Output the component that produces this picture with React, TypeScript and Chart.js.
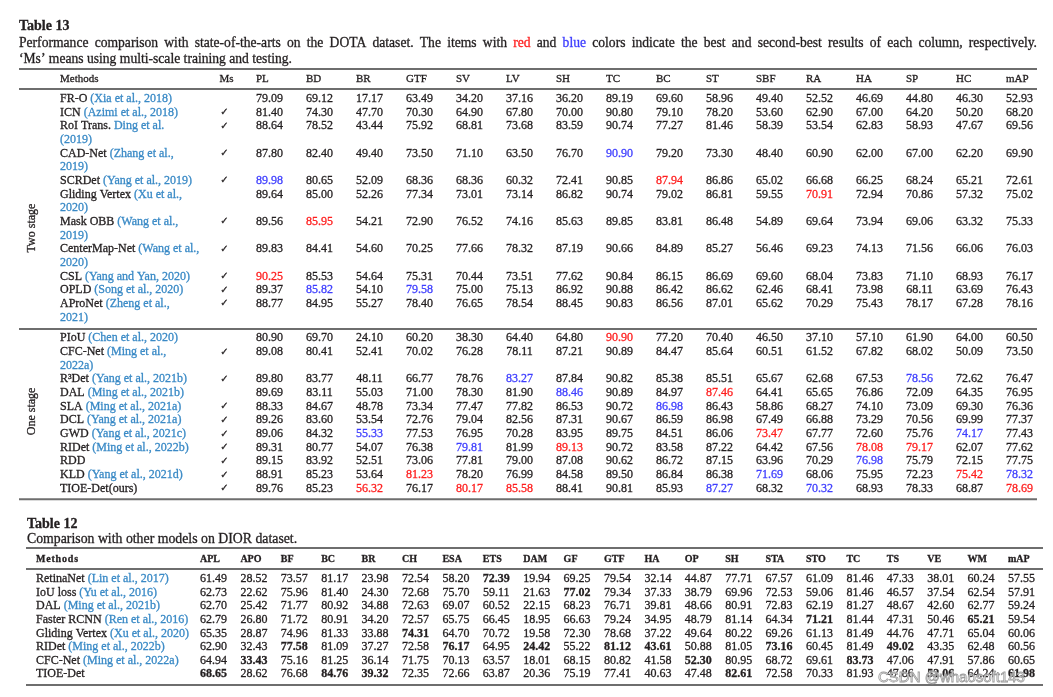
import React, { useEffect, useRef } from 'react';
import { Chart, registerables } from 'chart.js';

Chart.register(...registerables);

// ---------------- Table 13 (DOTA) data ----------------
const title13 = 'Table 13';
const caption13Line1 =
  'Performance comparison with state-of-the-arts on the DOTA dataset. The items with red and blue colors indicate the best and second-best results of each column, respectively.';
const caption13Line2 = '\u2018Ms\u2019 means using multi-scale training and testing.';
const cols13 = ['PL', 'BD', 'BR', 'GTF', 'SV', 'LV', 'SH', 'TC', 'BC', 'ST', 'SBF', 'RA', 'HA', 'SP', 'HC', 'mAP'];

const twoStageMethods = ['FR-O', 'ICN', 'RoI Trans.', 'CAD-Net', 'SCRDet', 'Gliding Vertex', 'Mask OBB', 'CenterMap-Net', 'CSL', 'OPLD', 'AProNet'];
const twoStageCites = [
  ['(Xia et al., 2018)'],
  ['(Azimi et al., 2018)'],
  ['Ding et al.', '(2019)'],
  ['(Zhang et al.,', '2019)'],
  ['(Yang et al., 2019)'],
  ['(Xu et al.,', '2020)'],
  ['(Wang et al.,', '2019)'],
  ['(Wang et al.,', '2020)'],
  ['(Yang and Yan, 2020)'],
  ['(Song et al., 2020)'],
  ['(Zheng et al.,', '2021)'],
];
const twoStageMs = [false, true, true, true, true, false, true, true, true, true, true];
const twoStageValues = [
  [79.09, 69.12, 17.17, 63.49, 34.2, 37.16, 36.2, 89.19, 69.6, 58.96, 49.4, 52.52, 46.69, 44.8, 46.3, 52.93],
  [81.4, 74.3, 47.7, 70.3, 64.9, 67.8, 70.0, 90.8, 79.1, 78.2, 53.6, 62.9, 67.0, 64.2, 50.2, 68.2],
  [88.64, 78.52, 43.44, 75.92, 68.81, 73.68, 83.59, 90.74, 77.27, 81.46, 58.39, 53.54, 62.83, 58.93, 47.67, 69.56],
  [87.8, 82.4, 49.4, 73.5, 71.1, 63.5, 76.7, 90.9, 79.2, 73.3, 48.4, 60.9, 62.0, 67.0, 62.2, 69.9],
  [89.98, 80.65, 52.09, 68.36, 68.36, 60.32, 72.41, 90.85, 87.94, 86.86, 65.02, 66.68, 66.25, 68.24, 65.21, 72.61],
  [89.64, 85.0, 52.26, 77.34, 73.01, 73.14, 86.82, 90.74, 79.02, 86.81, 59.55, 70.91, 72.94, 70.86, 57.32, 75.02],
  [89.56, 85.95, 54.21, 72.9, 76.52, 74.16, 85.63, 89.85, 83.81, 86.48, 54.89, 69.64, 73.94, 69.06, 63.32, 75.33],
  [89.83, 84.41, 54.6, 70.25, 77.66, 78.32, 87.19, 90.66, 84.89, 85.27, 56.46, 69.23, 74.13, 71.56, 66.06, 76.03],
  [90.25, 85.53, 54.64, 75.31, 70.44, 73.51, 77.62, 90.84, 86.15, 86.69, 69.6, 68.04, 73.83, 71.1, 68.93, 76.17],
  [89.37, 85.82, 54.1, 79.58, 75.0, 75.13, 86.92, 90.88, 86.42, 86.62, 62.46, 68.41, 73.98, 68.11, 63.69, 76.43],
  [88.77, 84.95, 55.27, 78.4, 76.65, 78.54, 88.45, 90.83, 86.56, 87.01, 65.62, 70.29, 75.43, 78.17, 67.28, 78.16],
];
// [row, column]
const twoStageRed = [[8, 0], [6, 1], [4, 8], [5, 11]];
const twoStageBlue = [[4, 0], [9, 1], [9, 3], [3, 7]];

const oneStageMethods = ['PIoU', 'CFC-Net', 'R\u00B3Det', 'DAL', 'SLA', 'DCL', 'GWD', 'RIDet', 'RDD', 'KLD', 'TIOE-Det(ours)'];
const oneStageCites = [
  ['(Chen et al., 2020)'],
  ['(Ming et al.,', '2022a)'],
  ['(Yang et al., 2021b)'],
  ['(Ming et al., 2021b)'],
  ['(Ming et al., 2021a)'],
  ['(Yang et al., 2021a)'],
  ['(Yang et al., 2021c)'],
  ['(Ming et al., 2022b)'],
  [''],
  ['(Yang et al., 2021d)'],
  [''],
];
const oneStageMs = [false, true, true, false, true, true, true, true, true, true, true];
const oneStageValues = [
  [80.9, 69.7, 24.1, 60.2, 38.3, 64.4, 64.8, 90.9, 77.2, 70.4, 46.5, 37.1, 57.1, 61.9, 64.0, 60.5],
  [89.08, 80.41, 52.41, 70.02, 76.28, 78.11, 87.21, 90.89, 84.47, 85.64, 60.51, 61.52, 67.82, 68.02, 50.09, 73.5],
  [89.8, 83.77, 48.11, 66.77, 78.76, 83.27, 87.84, 90.82, 85.38, 85.51, 65.67, 62.68, 67.53, 78.56, 72.62, 76.47],
  [89.69, 83.11, 55.03, 71.0, 78.3, 81.9, 88.46, 90.89, 84.97, 87.46, 64.41, 65.65, 76.86, 72.09, 64.35, 76.95],
  [88.33, 84.67, 48.78, 73.34, 77.47, 77.82, 86.53, 90.72, 86.98, 86.43, 58.86, 68.27, 74.1, 73.09, 69.3, 76.36],
  [89.26, 83.6, 53.54, 72.76, 79.04, 82.56, 87.31, 90.67, 86.59, 86.98, 67.49, 66.88, 73.29, 70.56, 69.99, 77.37],
  [89.06, 84.32, 55.33, 77.53, 76.95, 70.28, 83.95, 89.75, 84.51, 86.06, 73.47, 67.77, 72.6, 75.76, 74.17, 77.43],
  [89.31, 80.77, 54.07, 76.38, 79.81, 81.99, 89.13, 90.72, 83.58, 87.22, 64.42, 67.56, 78.08, 79.17, 62.07, 77.62],
  [89.15, 83.92, 52.51, 73.06, 77.81, 79.0, 87.08, 90.62, 86.72, 87.15, 63.96, 70.29, 76.98, 75.79, 72.15, 77.75],
  [88.91, 85.23, 53.64, 81.23, 78.2, 76.99, 84.58, 89.5, 86.84, 86.38, 71.69, 68.06, 75.95, 72.23, 75.42, 78.32],
  [89.76, 85.23, 56.32, 76.17, 80.17, 85.58, 88.41, 90.81, 85.93, 87.27, 68.32, 70.32, 68.93, 78.33, 68.87, 78.69],
];
const oneStageRed = [[0, 7], [10, 2], [9, 3], [10, 4], [10, 5], [7, 6], [3, 9], [6, 10], [7, 12], [7, 13], [9, 14], [10, 15]];
const oneStageBlue = [[6, 2], [7, 4], [2, 5], [3, 6], [4, 8], [10, 9], [9, 10], [10, 11], [8, 12], [2, 13], [6, 14], [9, 15]];

// ---------------- Table 12 (DIOR) data ----------------
const title12 = 'Table 12';
const caption12 = 'Comparison with other models on DIOR dataset.';
const cols12 = ['APL', 'APO', 'BF', 'BC', 'BR', 'CH', 'ESA', 'ETS', 'DAM', 'GF', 'GTF', 'HA', 'OP', 'SH', 'STA', 'STO', 'TC', 'TS', 'VE', 'WM', 'mAP'];
const methods12 = ['RetinaNet', 'IoU loss', 'DAL', 'Faster RCNN', 'Gliding Vertex', 'RIDet', 'CFC-Net', 'TIOE-Det'];
const cites12 = ['(Lin et al., 2017)', '(Yu et al., 2016)', '(Ming et al., 2021b)', '(Ren et al., 2016)', '(Xu et al., 2020)', '(Ming et al., 2022b)', '(Ming et al., 2022a)', ''];
const values12 = [
  [61.49, 28.52, 73.57, 81.17, 23.98, 72.54, 58.2, 72.39, 19.94, 69.25, 79.54, 32.14, 44.87, 77.71, 67.57, 61.09, 81.46, 47.33, 38.01, 60.24, 57.55],
  [62.73, 22.62, 75.96, 81.4, 24.3, 72.68, 75.7, 59.11, 21.63, 77.02, 79.34, 37.33, 38.79, 69.96, 72.53, 59.06, 81.46, 46.57, 37.54, 62.54, 57.91],
  [62.7, 25.42, 71.77, 80.92, 34.88, 72.63, 69.07, 60.52, 22.15, 68.23, 76.71, 39.81, 48.66, 80.91, 72.83, 62.19, 81.27, 48.67, 42.6, 62.77, 59.24],
  [62.79, 26.8, 71.72, 80.91, 34.2, 72.57, 65.75, 66.45, 18.95, 66.63, 79.24, 34.95, 48.79, 81.14, 64.34, 71.21, 81.44, 47.31, 50.46, 65.21, 59.54],
  [65.35, 28.87, 74.96, 81.33, 33.88, 74.31, 64.7, 70.72, 19.58, 72.3, 78.68, 37.22, 49.64, 80.22, 69.26, 61.13, 81.49, 44.76, 47.71, 65.04, 60.06],
  [62.9, 32.43, 77.58, 81.09, 37.27, 72.58, 76.17, 64.95, 24.42, 55.22, 81.12, 43.61, 50.88, 81.05, 73.16, 60.45, 81.49, 49.02, 43.35, 62.48, 60.56],
  [64.94, 33.43, 75.16, 81.25, 36.14, 71.75, 70.13, 63.57, 18.01, 68.15, 80.82, 41.58, 52.3, 80.95, 68.72, 69.61, 83.73, 47.06, 47.91, 57.86, 60.65],
  [68.65, 28.62, 76.68, 84.76, 39.32, 72.35, 72.66, 63.87, 20.36, 75.19, 77.41, 40.63, 47.48, 82.61, 72.58, 70.33, 81.93, 47.86, 52.06, 64.24, 61.98],
];
const bold12 = [
  [0, 7], [1, 9], [3, 15], [3, 19], [4, 5], [5, 2], [5, 6], [5, 8], [5, 10], [5, 11], [5, 14], [5, 17],
  [6, 1], [6, 12], [6, 16], [7, 0], [7, 3], [7, 4], [7, 13], [7, 18], [7, 20],
];
const watermark = 'CSDN @whaosoft143';

// ---------------- styling / layout ----------------
const SERIF = '"Liberation Serif", "Times New Roman", serif';
const INK = '#231f20';
const CITE = '#3a8ac6';
const RED = '#ff1f1f';
const BLUE = '#3f3fff';
const RULE = '#6e6e6e';
const HEAVY = 0.3;

const W = 1053;
const H13 = 505;
const H12 = 192;

const hasCell = (list: number[][], r: number, c: number) => list.some((p) => p[0] === r && p[1] === c);

// text with a light outline in the same colour, to match the heavier print face
function ink(ctx: CanvasRenderingContext2D, text: string, x: number, y: number, color: string) {
  ctx.fillStyle = color;
  ctx.strokeStyle = color;
  ctx.lineWidth = HEAVY;
  ctx.fillText(text, x, y);
  ctx.strokeText(text, x, y);
}

function drawWords(ctx: CanvasRenderingContext2D, text: string, x: number, y: number, width: number | null, colors: Record<string, string>) {
  const words = text.split(' ');
  const widths = words.map((w) => ctx.measureText(w).width);
  const total = widths.reduce((a, b) => a + b, 0);
  const space = ctx.measureText(' ').width;
  const gap = width === null ? space : Math.max(space * 0.6, (width - total) / (words.length - 1));
  let cx = x;
  ctx.textAlign = 'left';
  words.forEach((w, i) => {
    ink(ctx, w, cx, y, colors[w] || INK);
    cx += widths[i] + gap;
  });
}

function rule(ctx: CanvasRenderingContext2D, x1: number, x2: number, y: number) {
  ctx.save();
  ctx.strokeStyle = RULE;
  ctx.lineWidth = 2;
  ctx.beginPath();
  ctx.moveTo(x1, y);
  ctx.lineTo(x2, y);
  ctx.stroke();
  ctx.restore();
}

function nameLine(ctx: CanvasRenderingContext2D, name: string, cite: string, x: number, y: number) {
  ctx.textAlign = 'left';
  let cx = x;
  if (name) {
    ink(ctx, name, cx, y, INK);
    cx += ctx.measureText(name + ' ').width;
  }
  if (cite) ink(ctx, cite, cx, y, CITE);
}

const table13Plugin = {
  id: 'table13',
  afterDraw(chart: any) {
    const ctx: CanvasRenderingContext2D = chart.ctx;
    const xs = chart.scales.x;
    const ys = chart.scales.y;
    const L = 19;
    const R = 1037;
    const NAME_X = 60;
    const MS_SLOT = -0.9;
    ctx.save();
    ctx.textBaseline = 'middle';

    // title & caption
    ctx.font = `bold 14px ${SERIF}`;
    ctx.textAlign = 'left';
    ink(ctx, title13, L, 26, INK);
    ctx.font = `13.6px ${SERIF}`;
    drawWords(ctx, caption13Line1, L, 43.5, R - L, { red: RED, blue: BLUE });
    drawWords(ctx, caption13Line2, L, 59, null, {});

    const twoLines = twoStageCites.reduce((a, c) => a + c.length, 0);
    const oneBase = twoLines + 0.52;
    const oneLines = oneStageCites.reduce((a, c) => a + c.length, 0);

    rule(ctx, L, R, ys.getPixelForValue(-2.18));
    rule(ctx, L, R, ys.getPixelForValue(-0.72));
    rule(ctx, L, R, ys.getPixelForValue(twoLines - 0.16));
    rule(ctx, L, R, ys.getPixelForValue(oneBase + oneLines - 1 + 0.78));

    // header
    ctx.font = `12px ${SERIF}`;
    const half = ctx.measureText('00.00').width / 2;
    ctx.font = `11px ${SERIF}`;
    const hy = ys.getPixelForValue(-1.45);
    ctx.textAlign = 'left';
    ink(ctx, 'Methods', NAME_X, hy, INK);
    ctx.textAlign = 'center';
    ink(ctx, 'Ms', xs.getPixelForValue(MS_SLOT) + 2, hy, INK);
    ctx.textAlign = 'left';
    cols13.forEach((c, i) => ink(ctx, c, xs.getPixelForValue(i) - half, hy, INK));

    const drawGroup = (methods: string[], cites: string[][], ms: boolean[], vals: number[][], red: number[][], blue: number[][], base: number) => {
      let line = base;
      methods.forEach((m, r) => {
        const y = ys.getPixelForValue(line);
        ctx.font = `12px ${SERIF}`;
        nameLine(ctx, m, cites[r][0], NAME_X, y);
        for (let k = 1; k < cites[r].length; k++) {
          nameLine(ctx, '', cites[r][k], NAME_X, ys.getPixelForValue(line + k));
        }
        if (ms[r]) {
          ctx.font = `10px "DejaVu Sans", sans-serif`;
          ctx.textAlign = 'center';
          ink(ctx, '\u2713', xs.getPixelForValue(MS_SLOT), y, INK);
        }
        ctx.font = `12px ${SERIF}`;
        ctx.textAlign = 'center';
        vals[r].forEach((v, c) => {
          const color = hasCell(red, r, c) ? RED : hasCell(blue, r, c) ? BLUE : INK;
          ink(ctx, v.toFixed(2), xs.getPixelForValue(c), y, color);
        });
        line += cites[r].length;
      });
    };

    drawGroup(twoStageMethods, twoStageCites, twoStageMs, twoStageValues, twoStageRed, twoStageBlue, 0);
    drawGroup(oneStageMethods, oneStageCites, oneStageMs, oneStageValues, oneStageRed, oneStageBlue, oneBase);

    // group labels (rotated)
    const groupLabel = (text: string, v: number) => {
      ctx.save();
      ctx.translate(32, ys.getPixelForValue(v));
      ctx.rotate(-Math.PI / 2);
      ctx.font = `12px ${SERIF}`;
      ctx.textAlign = 'center';
      ink(ctx, text, 0, 0, INK);
      ctx.restore();
    };
    groupLabel('Two stage', 9.45);
    groupLabel('One stage', oneBase + 5.35);

    ctx.restore();
  },
};

const table12Plugin = {
  id: 'table12',
  afterDraw(chart: any) {
    const ctx: CanvasRenderingContext2D = chart.ctx;
    const xs = chart.scales.x;
    const ys = chart.scales.y;
    const L = 26;
    const R = 1043;
    const NAME_X = 36;
    ctx.save();
    ctx.textBaseline = 'middle';

    ctx.font = `bold 14px ${SERIF}`;
    ctx.textAlign = 'left';
    ink(ctx, title12, 27, 19, INK);
    ctx.font = `13.8px ${SERIF}`;
    drawWords(ctx, caption12, 27, 34, null, {});

    rule(ctx, L, R, ys.getPixelForValue(-2.28));
    rule(ctx, L, R, ys.getPixelForValue(-0.73));
    rule(ctx, L, R, ys.getPixelForValue(methods12.length - 1 + 0.79));

    ctx.font = `12px ${SERIF}`;
    const half = ctx.measureText('00.00').width / 2;
    const hy = ys.getPixelForValue(-1.43);
    ctx.font = `bold 10px ${SERIF}`;
    ctx.textAlign = 'left';
    (ctx as any).letterSpacing = '0.8px';
    ink(ctx, 'Methods', NAME_X, hy, INK);
    (ctx as any).letterSpacing = '0px';
    cols12.forEach((c, i) => ink(ctx, c, xs.getPixelForValue(i) - half, hy, INK));

    methods12.forEach((m, r) => {
      const y = ys.getPixelForValue(r);
      ctx.font = `12px ${SERIF}`;
      nameLine(ctx, m, cites12[r], NAME_X, y);
      ctx.textAlign = 'center';
      values12[r].forEach((v, c) => {
        ctx.font = hasCell(bold12, r, c) ? `bold 12px ${SERIF}` : `12px ${SERIF}`;
        ink(ctx, v.toFixed(2), xs.getPixelForValue(c), y, INK);
      });
    });

    // watermark
    ctx.font = '15px "Liberation Sans", Arial, sans-serif';
    ctx.textAlign = 'left';
    ctx.lineWidth = 0.8;
    ctx.strokeStyle = '#9a9a9a';
    ctx.fillStyle = 'rgba(255,255,255,0.8)';
    ctx.fillText(watermark, 878, 173);
    ctx.strokeText(watermark, 878, 173);

    ctx.restore();
  },
};

export default function App() {
  const ref13 = useRef<HTMLCanvasElement>(null);
  const ref12 = useRef<HTMLCanvasElement>(null);

  useEffect(() => {
    const c13 = new Chart(ref13.current as HTMLCanvasElement, {
      type: 'scatter',
      data: { datasets: [] },
      options: {
        responsive: false,
        animation: false,
        events: [],
        layout: { padding: { left: 244.5, right: 8.5, top: 92.0, bottom: 9.8 } },
        plugins: { legend: { display: false }, title: { display: false }, tooltip: { enabled: false } },
        scales: {
          x: { type: 'category', labels: cols13, offset: true, display: false },
          y: { type: 'linear', min: -0.5, max: 29, reverse: true, display: false },
        },
      },
      plugins: [table13Plugin],
    } as any);
    const c12 = new Chart(ref12.current as HTMLCanvasElement, {
      type: 'scatter',
      data: { datasets: [] },
      options: {
        responsive: false,
        animation: false,
        events: [],
        layout: { padding: { left: 193.3, right: 11.3, top: 67.2, bottom: 15.9 } },
        plugins: { legend: { display: false }, title: { display: false }, tooltip: { enabled: false } },
        scales: {
          x: { type: 'category', labels: cols12, offset: true, display: false },
          y: { type: 'linear', min: -0.5, max: 7.5, reverse: true, display: false },
        },
      },
      plugins: [table12Plugin],
    } as any);
    return () => {
      c13.destroy();
      c12.destroy();
    };
  }, []);

  return (
    <div style={{ position: 'absolute', left: 0, top: 0, width: W, height: H13 + H12, background: '#fff', overflow: 'hidden' }}>
      <canvas ref={ref13} width={W} height={H13} style={{ position: 'absolute', left: 0, top: 0, display: 'block' }} />
      <canvas ref={ref12} width={W} height={H12} style={{ position: 'absolute', left: 0, top: H13, display: 'block' }} />
    </div>
  );
}
